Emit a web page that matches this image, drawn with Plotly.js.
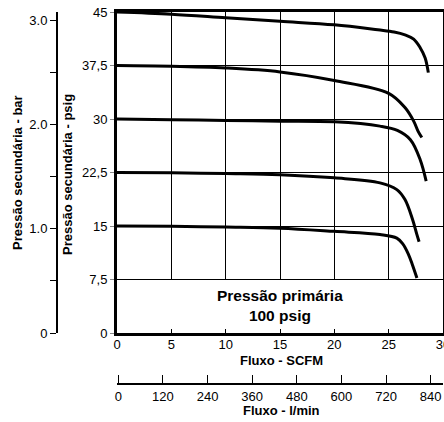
<!DOCTYPE html>
<html>
<head>
<meta charset="utf-8">
<script src="https://cdn.plot.ly/plotly-3.0.1.min.js"></script>
<style>html,body{margin:0;padding:0;background:#fff;}#chart{width:444px;height:422px;}</style>
</head>
<body>
<div id="chart"></div>
<script>
// Flow (SCFM) and secondary pressure (psig) for each set-point curve
const flow45 = [0, 5, 10, 15, 20, 24, 25.5, 26.5, 27.3, 27.9, 28.35, 28.65];
const psig45 = [45, 44.7, 44.2, 43.7, 43.2, 42.5, 42.2, 41.8, 41.2, 40.0, 38.6, 36.5];
const flow375 = [0, 5, 10, 15, 20, 25, 26.5, 27.3, 27.7, 28.05];
const psig375 = [37.5, 37.4, 37.15, 36.6, 35.4, 33.6, 31.6, 29.7, 28.3, 27.4];
const flow30 = [0, 5, 10, 15, 20, 24.2, 25.8, 27.0, 27.9, 28.45];
const psig30 = [30, 29.9, 29.8, 29.7, 29.6, 29.0, 28.4, 27.1, 24.3, 21.3];
const flow225 = [0, 5, 10, 15, 20, 24.2, 25.75, 26.5, 27.2, 27.6, 27.8];
const psig225 = [22.5, 22.45, 22.35, 22.2, 21.75, 21.05, 20.1, 18.7, 15.9, 13.8, 12.8];
const flow15 = [0, 5, 10, 15, 20, 24.2, 25.75, 26.3, 26.8, 27.2, 27.6];
const psig15 = [15, 14.95, 14.85, 14.7, 14.25, 13.8, 13.3, 12.5, 11.1, 9.5, 7.7];

// Axis ticks
const scfmTicks = [0, 5, 10, 15, 20, 25, 30];
const psigTicks = [0, 7.5, 15, 22.5, 30, 37.5, 45];
const psigLabels = ["0", "7,5", "15", "22,5", "30", "37,5", "45"];
const barTicks = [0, 1, 2, 3];
const barLabels = ["0", "1.0", "2.0", "3.0"];
const lminTicks = [0, 120, 240, 360, 480, 600, 720, 840];

const FONT = "Liberation Sans, Arial, sans-serif";
const curves = [[flow45, psig45], [flow375, psig375], [flow30, psig30], [flow225, psig225], [flow15, psig15]];
const data = curves.map(c => ({
  x: c[0], y: c[1], type: "scatter", mode: "lines",
  line: {color: "#000", width: 3, shape: "spline", smoothing: 1},
  showlegend: false, hoverinfo: "skip", xaxis: "x", yaxis: "y"
}));
// empty helper traces so the extra axes are drawn
data.push({x: [], y: [], xaxis: "x3", yaxis: "y4", showlegend: false, hoverinfo: "skip"});
data.push({x: [], y: [], xaxis: "x2", yaxis: "y", showlegend: false, hoverinfo: "skip"});
data.push({x: [], y: [], xaxis: "x", yaxis: "y3", showlegend: false, hoverinfo: "skip"});

const W = 444, H = 422;
const L = 117, R = 443, T = 12, B = 333;
const fx = v => v / W;           // paper fraction from pixel x
const fy = v => 1 - v / H;       // paper fraction from pixel y
const xDom = [fx(L), fx(R)];
const yDom = [fy(B), fy(T)];
const yGridDom = [yDom[0] + (yDom[1] - yDom[0]) / 6, yDom[1]];

const layout = {
  width: W, height: H,
  margin: {l: 0, r: 0, t: 0, b: 0, pad: 0},
  paper_bgcolor: "#fff", plot_bgcolor: "rgba(0,0,0,0)",
  font: {family: FONT, size: 13, color: "#000"},
  showlegend: false,
  xaxis: {
    range: [0, 30], domain: xDom, anchor: "y", tickvals: scfmTicks, ticktext: scfmTicks.map(String),
    showgrid: false, zeroline: false, showline: true, mirror: true, linewidth: 3, linecolor: "#000",
    ticks: "inside", ticklen: 4, tickwidth: 1, tickcolor: "#000", ticklabelstandoff: -3,
    ticklabeloverflow: "allow",
    tickfont: {family: FONT, size: 13, color: "#000"}, fixedrange: true
  },
  yaxis: {
    range: [0, 45], domain: yDom, anchor: "x", tickvals: psigTicks, ticktext: psigLabels,
    showgrid: true, gridcolor: "#000", gridwidth: 1, zeroline: false,
    showline: true, mirror: true, linewidth: 3, linecolor: "#000",
    ticks: "outside", ticklen: 4, tickwidth: 1, tickcolor: "#888",
    tickfont: {family: FONT, size: 13, color: "#000"}, fixedrange: true
  },
  // vertical grid only above 7.5 psig
  xaxis3: {
    range: [0, 30], domain: xDom, anchor: "y4", tickvals: scfmTicks, showgrid: true, gridcolor: "#000", gridwidth: 1,
    showticklabels: false, showline: false, zeroline: false, ticks: "", fixedrange: true
  },
  yaxis4: {
    range: [7.5, 45], domain: yGridDom, anchor: "x3", showgrid: false, showticklabels: false,
    showline: false, zeroline: false, ticks: "", fixedrange: true
  },
  // bar scale
  yaxis3: {
    overlaying: "y", anchor: "free", side: "left", position: fx(56),
    range: [0, 3.077], tickvals: barTicks, ticktext: barLabels,
    showgrid: false, zeroline: false, showline: true, linewidth: 1.5, linecolor: "#000",
    ticks: "outside", ticklen: 6, tickwidth: 1, tickcolor: "#000",
    minor: {tick0: 0, dtick: 0.5, ticks: "outside", ticklen: 6, tickcolor: "#000", tickwidth: 1},
    tickfont: {family: FONT, size: 13, color: "#000"}, fixedrange: true
  },
  // l/min scale
  xaxis2: {
    overlaying: "x", anchor: "free", side: "bottom", position: fy(384),
    range: [(L - 118.3) / 0.3719, (R - 118.3) / 0.3719], tickvals: lminTicks, ticktext: lminTicks.map(String),
    showgrid: false, zeroline: false, showline: true, linewidth: 2, linecolor: "#000",
    ticks: "inside", ticklen: 8, tickwidth: 1, tickcolor: "#000", ticklabeloverflow: "allow",
    tickfont: {family: FONT, size: 13, color: "#000"}, fixedrange: true
  },
  annotations: [
    {text: "<b>Pressão primária</b><br><b>100 psig</b>", xref: "x", yref: "y", x: 15, y: 3.9,
     xanchor: "center", yanchor: "middle",
     showarrow: false, font: {family: FONT, size: 15.5, color: "#000"}, align: "center"},
    {text: "<b>Fluxo - SCFM</b>", xref: "paper", yref: "paper", x: fx(281), y: fy(360),
     xanchor: "center", yanchor: "middle", showarrow: false, font: {family: FONT, size: 13, color: "#000"}},
    {text: "<b>Fluxo - l/min</b>", xref: "paper", yref: "paper", x: fx(281), y: fy(410),
     xanchor: "center", yanchor: "middle", showarrow: false, font: {family: FONT, size: 13, color: "#000"}},
    {text: "<b>Pressão secundária - psig</b>", xref: "paper", yref: "paper", x: fx(67), y: fy(175),
     xanchor: "center", yanchor: "middle",
     textangle: -90, showarrow: false, font: {family: FONT, size: 13, color: "#000"}},
    {text: "<b>Pressão secundária - bar</b>", xref: "paper", yref: "paper", x: fx(17), y: fy(173),
     xanchor: "center", yanchor: "middle",
     textangle: -90, showarrow: false, font: {family: FONT, size: 13, color: "#000"}}
  ]
};

Plotly.newPlot("chart", data, layout, {staticPlot: true, displayModeBar: false});
</script>
</body>
</html>
